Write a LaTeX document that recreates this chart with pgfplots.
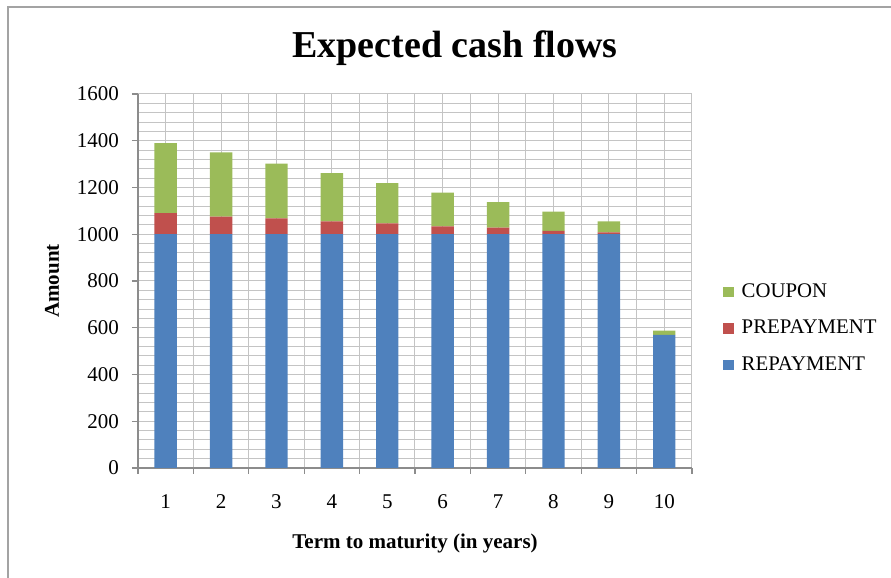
\documentclass[border=0pt]{standalone}
\usepackage{fontspec}
\setmainfont{Liberation Serif}
\usepackage{pgfplots}
\pgfplotsset{compat=1.18}
\definecolor{cblue}{HTML}{4F81BD}
\definecolor{cred}{HTML}{C0504D}
\definecolor{cgreen}{HTML}{9BBB59}
\definecolor{gridc}{HTML}{C4C4C4}
\definecolor{axisc}{HTML}{8C8C8C}
\begin{document}
\begin{tikzpicture}
\path[use as bounding box] (-69pt,-55pt) rectangle (376.5pt,234pt);
\draw[color=axisc!80, line width=0.6pt] (-65pt,-55pt) -- (-65pt,230.5pt) -- (376.5pt,230.5pt);
\begin{axis}[
  at={(0pt,0pt)}, anchor=south west,
  scale only axis,
  width=277pt, height=187pt,
  ybar stacked,
  bar width=11.2pt,
  xmin=0.5, xmax=10.5,
  ymin=0, ymax=1600,
  xtick={1,...,10},
  minor xtick={0.5,1.5,...,10.5},
  ytick={0,200,...,1600},
  minor ytick={40,80,...,1560},
  axis x line*=bottom,
  axis y line*=left,
  axis line style={color=axisc, line width=0.6pt},
  tick align=outside,
  major tick length=3pt,
  xmajorgrids, xminorgrids, ymajorgrids, yminorgrids,
  major grid style={color=gridc, line width=0.5pt},
  minor grid style={color=gridc, line width=0.5pt},
  x tick style={draw=none},
  minor x tick style={draw=axisc, line width=0.6pt},
  minor y tick style={draw=none},
  y tick style={color=axisc, line width=0.6pt},
  /pgf/number format/assume math mode=true,
  /pgf/number format/1000 sep={},
  ticklabel style={font=\fontsize{10.5}{12}\selectfont},
  xticklabel style={yshift=-6pt, text height=7.5pt, text depth=0pt},
  yticklabel style={xshift=-3pt},
  legend style={at={(1.045,0.515)}, anchor=north west, draw=none, fill=none,
    font=\fontsize{10.4}{12}\selectfont, row sep=5.8pt,
    /tikz/every odd column/.append style={column sep=2pt}},
  legend cell align=left,
  reverse legend,
  legend image code/.code={\draw[#1, draw=none] (0pt,-2.6pt) rectangle (5.2pt,2.6pt);},
  every axis legend/.append style={nodes={inner xsep=2pt}},
]
\addplot[fill=cblue, draw=none] coordinates {(1,1000) (2,1000) (3,1000) (4,1000) (5,1000) (6,1000) (7,1000) (8,1000) (9,1000) (10,570)};
\addplot[fill=cred, draw=none] coordinates {(1,90) (2,75) (3,68) (4,55) (5,47) (6,34) (7,28) (8,14) (9,8) (10,0)};
\addplot[fill=cgreen, draw=none] coordinates {(1,300) (2,275) (3,234) (4,206) (5,172) (6,144) (7,109) (8,83) (9,47) (10,18)};
\legend{REPAYMENT, PREPAYMENT, COUPON}
\end{axis}
\node[font=\fontsize{19}{22}\selectfont\bfseries] at (158.5pt,210pt) {Expected cash flows};
\node[font=\fontsize{10.5}{12}\selectfont\bfseries, rotate=90] at (-43pt,93.5pt) {Amount};
\node[font=\fontsize{10.5}{12}\selectfont\bfseries] at (138.5pt,-37.5pt) {Term to maturity (in years)};
\end{tikzpicture}
\end{document}
